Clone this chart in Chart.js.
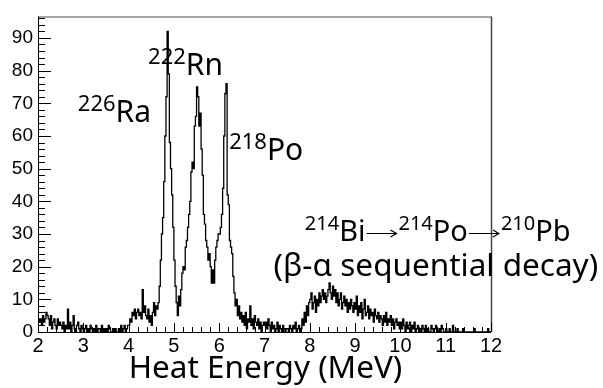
<!DOCTYPE html>
<html>
<head>
<meta charset="utf-8">
<script src="https://cdn.jsdelivr.net/npm/chart.js@4/dist/chart.umd.min.js"></script>
<style>
  html, body { margin: 0; padding: 0; background: #fff; }
  #wrap { width: 603px; height: 388px; position: relative; }
</style>
</head>
<body>
<div id="wrap"><canvas id="c" width="603" height="388"></canvas></div>
<script>
// heat energy spectrum, 0.025 MeV bins from 2 to 12 MeV
const xMin = 2
const xMax = 12
const binWidth = 0.025

// counts per bin, one row = 0.5 MeV (20 bins)
const counts = [
  4,3,4,2,5,3,4,6,5,4,2,5,1,3,4,2,1,4,2,3,          // 2.0 - 2.5
  2,1,3,0,2,1,7,1,3,0,2,5,1,0,2,3,1,0,2,1,          // 2.5 - 3.0
  0,1,2,0,1,0,2,1,0,1,0,2,0,1,1,0,2,0,1,0,          // 3.0 - 3.5
  1,0,2,1,0,0,1,0,1,0,0,1,0,2,0,1,2,0,1,2,          // 3.5 - 4.0
  2,4,3,6,5,7,4,6,7,5,6,4,13,6,8,5,4,7,3,5,         // 4.0 - 4.5
  2,6,9,5,8,7,9,14,22,30,35,46,60,72,92,79,58,50,42,32,      // 4.5 - 5.0  226Ra
  22,14,9,5,11,8,13,18,20,19,26,28,32,36,40,49,52,50,63,66,   // 5.0 - 5.5
  75,72,63,67,56,48,36,33,28,26,22,24,20,15,19,15,22,26,28,30, // 5.5 - 6.0  222Rn
  30,32,36,44,60,73,76,42,39,28,26,24,17,12,8,10,5,8,4,6,     // 6.0 - 6.5  218Po
  3,5,2,6,1,4,3,8,2,4,1,5,3,2,4,1,3,0,2,3,          // 6.5 - 7.0
  2,3,1,4,2,0,3,1,2,0,1,3,0,2,1,0,2,1,0,1,          // 7.0 - 7.5
  1,0,2,1,0,2,1,3,0,1,2,0,1,4,2,6,3,8,5,9,          // 7.5 - 8.0
  10,12,7,9,11,6,10,8,12,9,11,13,10,12,9,11,13,15,12,10,      // 8.0 - 8.5  214Bi-Po
  14,11,13,9,12,8,10,12,7,9,11,8,10,6,9,7,10,8,6,9,           // 8.5 - 9.0
  7,11,5,8,6,9,4,7,10,5,6,8,4,7,5,6,3,7,5,4,        // 9.0 - 9.5
  6,3,5,4,2,5,3,6,2,4,3,5,2,4,1,3,4,2,3,1,          // 9.5 - 10.0
  3,1,4,2,0,3,1,2,3,0,2,1,3,0,1,2,0,1,0,2,          // 10.0 - 10.5
  1,0,2,0,1,0,0,2,1,0,1,2,0,0,1,0,2,1,0,0,          // 10.5 - 11.0
  1,0,0,1,0,0,2,0,0,0,1,0,0,0,0,1,0,0,0,0,          // 11.0 - 11.5
  0,0,0,0,0,1,0,0,0,0,0,0,0,0,0,0,0,1,0,0           // 11.5 - 12.0
]

const yMax = 96.6
const xTicks = [2,3,4,5,6,7,8,9,10,11,12]
const yTicks = [0,10,20,30,40,50,60,70,80,90]

// peak labels: [mass, symbol] pieces, anchored in data coords
const peakLabels = [
  { e: 2.88, v: 64.4, parts: [['226','Ra']] },
  { e: 4.43, v: 78.7, parts: [['222','Rn']] },
  { e: 6.22, v: 52.7, parts: [['218','Po']] },
  { e: 7.89, v: 28.0, parts: [['214','Bi'], ['214','Po'], ['210','Pb']], arrows: true, main: 29, sup: 20 },
]
const noteText = '(β-α sequential decay)'
const xTitle = 'Heat Energy (MeV)'

const comic = '"Comic Sans MS", "Noto Sans", sans-serif'

// step points at the low edge of each bin, closed at xMax
const points = counts.map((c, i) => ({ x: xMin + i * binWidth, y: c }))
points.push({ x: xMax, y: counts.at(-1) })

function arrow(ctx, x0, y0, len) {
  ctx.beginPath()
  ctx.lineWidth = 1.2
  ctx.moveTo(x0, y0); ctx.lineTo(x0 + len, y0)
  ctx.moveTo(x0 + len - 6, y0 - 3.5); ctx.lineTo(x0 + len, y0); ctx.lineTo(x0 + len - 6, y0 + 3.5)
  ctx.stroke()
}

const frame = {
  id: 'frame',
  afterDraw(chart) {
    const { ctx, chartArea: a, scales: { x, y } } = chart
    ctx.save()
    // frame, grey top/right like ROOT's pad
    ctx.lineWidth = 1.5
    ctx.strokeStyle = '#8a8a8a'
    ctx.beginPath(); ctx.moveTo(a.left, a.top + 0.5); ctx.lineTo(a.right, a.top + 0.5); ctx.stroke()
    ctx.strokeStyle = '#444'
    ctx.beginPath(); ctx.moveTo(a.right + 0.5, a.top); ctx.lineTo(a.right + 0.5, a.bottom); ctx.stroke()
    ctx.strokeStyle = '#000'
    ctx.lineWidth = 1
    ctx.beginPath()
    ctx.moveTo(a.left + 0.5, a.top); ctx.lineTo(a.left + 0.5, a.bottom + 0.5); ctx.lineTo(a.right, a.bottom + 0.5)
    ctx.stroke()

    // inner ticks
    ctx.beginPath()
    for (let v = 0; v <= yMax; v += 2) {
      const py = Math.round(y.getPixelForValue(v)) + 0.5
      const len = v % 10 === 0 ? 13 : 7
      ctx.moveTo(a.left, py); ctx.lineTo(a.left + len, py)
    }
    for (let k = 0; k <= 50; k++) {
      const e = xMin + k * 0.2
      const px = Math.round(x.getPixelForValue(e)) + 0.5
      const len = k % 5 === 0 ? 9 : 5
      ctx.moveTo(px, a.bottom); ctx.lineTo(px, a.bottom - len)
    }
    ctx.stroke()

    // axis title
    ctx.fillStyle = '#000'
    ctx.textBaseline = 'alphabetic'
    ctx.textAlign = 'center'
    ctx.font = `31.5px ${comic}`
    ctx.fillText(xTitle, (a.left + a.right) / 2 + 1, 378)

    // peak labels
    ctx.textAlign = 'left'
    ctx.strokeStyle = '#000'
    peakLabels.forEach(l => {
      const main = l.main || 30
      const sup = l.sup || 22
      let px = x.getPixelForValue(l.e)
      const py = y.getPixelForValue(l.v)
      l.parts.forEach(([m, s], i) => {
        if (i > 0 && l.arrows) {
          arrow(ctx, px + 1, py - 7, 30)
          px += 33
        }
        ctx.font = `${sup}px ${comic}`
        ctx.fillText(m, px, py - 11)
        px += ctx.measureText(m).width
        ctx.font = `${main}px ${comic}`
        ctx.fillText(s, px, py)
        px += ctx.measureText(s).width
      })
    })
    ctx.font = `31.5px ${comic}`
    ctx.fillText(noteText, x.getPixelForValue(7.2), y.getPixelForValue(17))
    ctx.restore()
  }
}

new Chart(document.getElementById('c'), {
  type: 'line',
  data: {
    datasets: [{
      data: points,
      stepped: true,
      borderColor: '#000',
      borderWidth: 1.3,
      pointRadius: 0,
      fill: false,
    }]
  },
  options: {
    responsive: false,
    animation: false,
    layout: { padding: { top: 8, right: 112, left: 0, bottom: 0 } },
    plugins: { legend: { display: false }, tooltip: { enabled: false } },
    scales: {
      x: {
        type: 'linear',
        min: xMin, max: xMax,
        afterFit: s => { s.height = 56 },
        afterBuildTicks: s => { s.ticks = xTicks.map(v => ({ value: v })) },
        grid: { display: false, drawTicks: false },
        border: { display: false },
        ticks: { color: '#000', padding: 2, font: { family: '"Liberation Sans", Arial, sans-serif', size: 20 } },
      },
      y: {
        min: 0, max: yMax,
        afterFit: s => { s.width = 38 },
        afterBuildTicks: s => { s.ticks = yTicks.map(v => ({ value: v })) },
        grid: { display: false, drawTicks: false },
        border: { display: false },
        ticks: { color: '#000', padding: 5, font: { family: '"Liberation Sans", Arial, sans-serif', size: 19 } },
      },
    },
  },
  plugins: [frame],
})
</script>
</body>
</html>
